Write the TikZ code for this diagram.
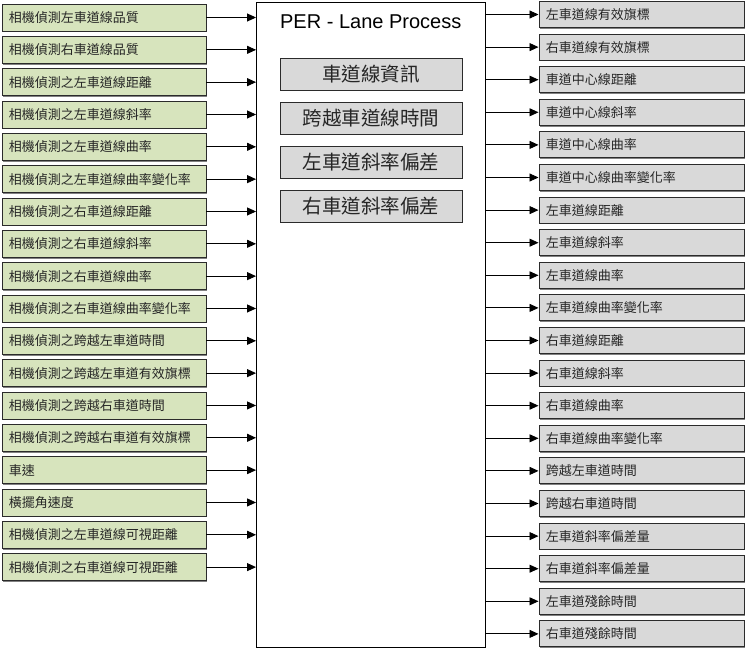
\documentclass[tikz,border=0pt]{standalone}
\usepackage{fontspec}
\setmainfont{Liberation Sans}
\newfontfamily\cjk{Noto Sans CJK TC}
\usetikzlibrary{arrows.meta,shadows}

\definecolor{inbox}{HTML}{D7E4BD}
\definecolor{outbox}{HTML}{D9D9D9}
\definecolor{edge}{HTML}{2B2B2B}
\definecolor{txt}{HTML}{262626}

\tikzset{
  boxshadow/.style={drop shadow={shadow xshift=1.3bp, shadow yshift=-1.3bp, fill=black!70, opacity=0.7}},
  inbox/.style={draw=edge, line width=0.9bp, fill=inbox, boxshadow, anchor=west,
    text width=190bp, inner xsep=7bp, inner ysep=0pt, minimum height=27bp,
    align=left, text=txt, font=\cjk\fontsize{13bp}{15bp}\selectfont},
  outbox/.style={draw=edge, line width=0.9bp, fill=outbox, boxshadow, anchor=west,
    text width=191.5bp, inner xsep=7bp, inner ysep=0pt, minimum height=26bp,
    align=left, text=txt, font=\cjk\fontsize{13bp}{15bp}\selectfont},
  subbox/.style={draw=edge, line width=0.9bp, fill=outbox, boxshadow,
    minimum width=182bp, minimum height=32bp, inner sep=0pt, text=txt,
    font=\cjk\fontsize{19.5bp}{22bp}\selectfont},
  procbox/.style={draw=black, line width=0.9bp, fill=white,
    minimum width=228.5bp, minimum height=645bp, inner sep=0pt},
  arr/.style={draw=black, line width=0.9bp, -{Triangle[length=9bp,width=8bp]}}
}

\begin{document}
\begin{tikzpicture}[x=1bp, y=-1bp]
  \useasboundingbox (0,0) rectangle (745,649);

  % central process block
  \node[procbox] (P) at (370.75,324.5) {};
  \node[font=\fontsize{20bp}{24bp}\selectfont, text=black] (T) at (370.75,22) {PER - Lane Process};

  % internal function blocks
  \node[subbox] (S1) at (371,74)  {車道線資訊};
  \node[subbox] (S2) at (371,118) {跨越車道線時間};
  \node[subbox] (S3) at (371,162) {左車道斜率偏差};
  \node[subbox] (S4) at (371,206) {右車道斜率偏差};

  % inputs
  \foreach \lbl [count=\i] in {
    相機偵測左車道線品質,
    相機偵測右車道線品質,
    相機偵測之左車道線距離,
    相機偵測之左車道線斜率,
    相機偵測之左車道線曲率,
    相機偵測之左車道線曲率變化率,
    相機偵測之右車道線距離,
    相機偵測之右車道線斜率,
    相機偵測之右車道線曲率,
    相機偵測之右車道線曲率變化率,
    相機偵測之跨越左車道時間,
    相機偵測之跨越左車道有效旗標,
    相機偵測之跨越右車道時間,
    相機偵測之跨越右車道有效旗標,
    車速,
    橫擺角速度,
    相機偵測之左車道線可視距離,
    相機偵測之右車道線可視距離}
  {
    \node[inbox] (L\i) at (1.5,{17.5+32.33*(\i-1)}) {\lbl};
    \draw[arr] (L\i.east) -- (L\i.east -| P.west);
  }

  % outputs
  \foreach \lbl [count=\i] in {
    左車道線有效旗標,
    右車道線有效旗標,
    車道中心線距離,
    車道中心線斜率,
    車道中心線曲率,
    車道中心線曲率變化率,
    左車道線距離,
    左車道線斜率,
    左車道線曲率,
    左車道線曲率變化率,
    右車道線距離,
    右車道線斜率,
    右車道線曲率,
    右車道線曲率變化率,
    跨越左車道時間,
    跨越右車道時間,
    左車道斜率偏差量,
    右車道斜率偏差量,
    左車道殘餘時間,
    右車道殘餘時間}
  {
    \node[outbox] (R\i) at (538.5,{14.5+32.6*(\i-1)}) {\lbl};
    \draw[arr] (R\i.west -| P.east) -- (R\i.west);
  }
\end{tikzpicture}
\end{document}
